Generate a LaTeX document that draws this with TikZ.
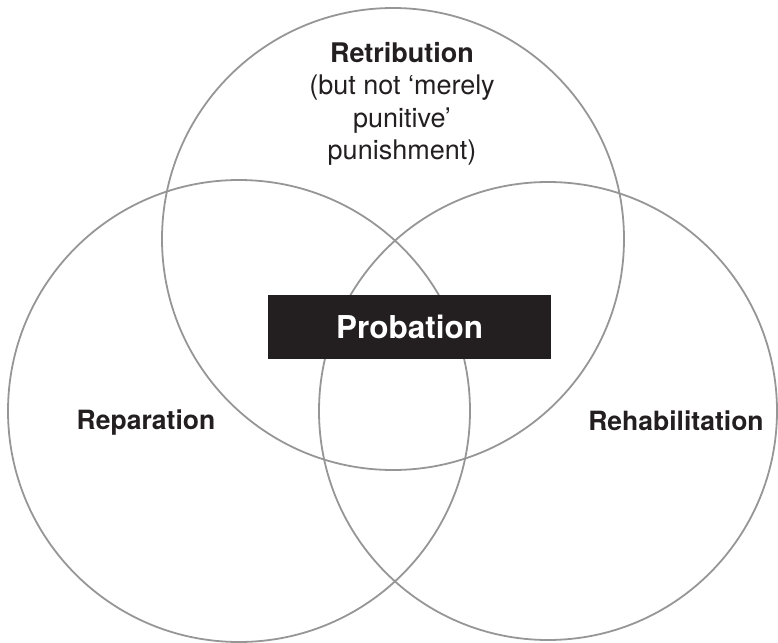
\documentclass[tikz,border=0pt]{standalone}
\usepackage{fontspec}
\setmainfont{TeX Gyre Heros}
\usetikzlibrary{positioning}
\definecolor{ringgray}{RGB}{150,150,150}
\definecolor{inkblack}{RGB}{35,31,32}

\begin{document}
\begin{tikzpicture}[x=1pt, y=-1pt,
  ring/.style={draw=ringgray, line width=1.8pt, circle, minimum size=462pt, inner sep=0pt},
  lab/.style={font=\fontsize{26.5}{32}\selectfont\bfseries, text=inkblack, inner sep=0pt},
  note/.style={font=\fontsize{27}{32.5}\selectfont, text=inkblack, inner sep=0pt, align=center},
  core/.style={fill=inkblack, text=white, minimum width=283pt, minimum height=64pt, inner sep=0pt,
               font=\fontsize{31.5}{36}\selectfont\bfseries}]
\useasboundingbox (0,0) rectangle (778,642);

% the three circles
\node[ring] (retr) at (393,239) {};
\node[ring] (repa) at (239,411) {};
\node[ring, minimum size=458pt] (reha) at (548,411) {};

% circle labels
\node[note] (retrlab) at (402,104) {\textbf{Retribution}\\(but not ‘merely\\punitive’\\punishment)};
\node[lab] (repalab) at (146,423) {Reparation};
\node[lab] (rehalab) at (676,421) {Rehabilitation};

% the box in the middle
\node[core] (prob) at (409.5,327) {Probation};
\end{tikzpicture}
\end{document}
